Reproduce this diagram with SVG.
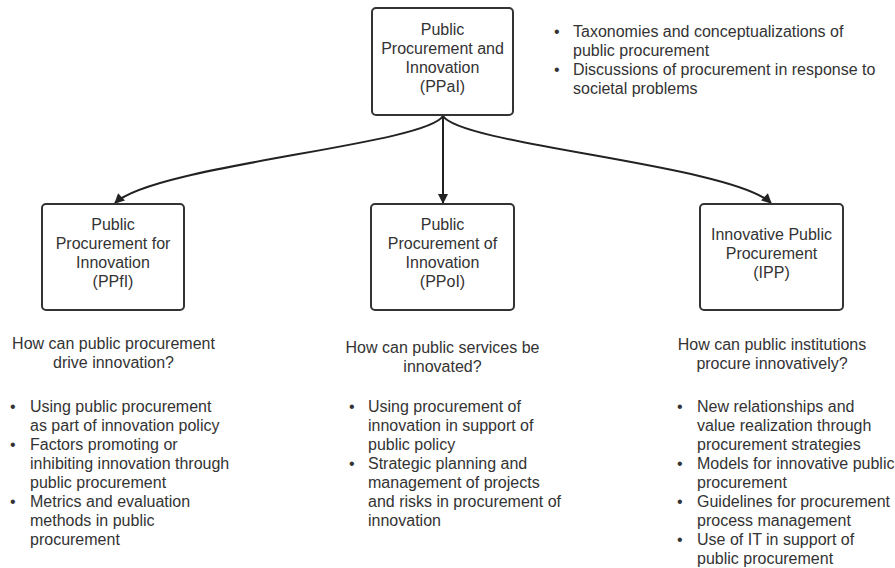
<svg xmlns="http://www.w3.org/2000/svg" width="895" height="568" viewBox="0 0 895 568">
<style>
  .box { fill: #ffffff; stroke: #333333; stroke-width: 2; }
  .t { font-family: "Liberation Sans", Arial, sans-serif; font-size: 16px; fill: #333333; }
  .c { text-anchor: middle; }
  .conn { fill: none; stroke: #222222; stroke-width: 2; }
</style>
<defs>
  <marker id="arrow" viewBox="0 0 10 10" refX="9" refY="5" markerWidth="5.5" markerHeight="5" markerUnits="strokeWidth" orient="auto">
    <path d="M0,0 L10,5 L0,10 Z" fill="#222222"/>
  </marker>
</defs>
<rect width="895" height="568" fill="#ffffff"/>

<g id="connectors">
  <path class="conn" d="M443,116 C425,145 155,165 115,203" marker-end="url(#arrow)"/>
  <path class="conn" d="M443,116 L443,203" marker-end="url(#arrow)"/>
  <path class="conn" d="M443,116 C461,145 731,165 771,203" marker-end="url(#arrow)"/>
</g>

<g id="ppai">
  <rect class="box" x="372" y="8" width="141" height="107" rx="4"/>
  <text class="t c" x="442.5" y="35">Public</text>
  <text class="t c" x="442.5" y="54">Procurement and</text>
  <text class="t c" x="442.5" y="73">Innovation</text>
  <text class="t c" x="442.5" y="92">(PPaI)</text>
</g>

<g id="ppai-notes">
  <text class="t" x="554" y="37">•</text>
  <text class="t" x="573" y="37">Taxonomies and conceptualizations of</text>
  <text class="t" x="573" y="56">public procurement</text>
  <text class="t" x="554" y="75">•</text>
  <text class="t" x="573" y="75">Discussions of procurement in response to</text>
  <text class="t" x="573" y="94">societal problems</text>
</g>

<g id="ppfi">
  <rect class="box" x="42" y="204" width="142" height="106" rx="4"/>
  <text class="t c" x="113" y="230">Public</text>
  <text class="t c" x="113" y="249">Procurement for</text>
  <text class="t c" x="113" y="268">Innovation</text>
  <text class="t c" x="113" y="287">(PPfI)</text>
</g>

<g id="ppoi">
  <rect class="box" x="371" y="204" width="143" height="106" rx="4"/>
  <text class="t c" x="442.5" y="230">Public</text>
  <text class="t c" x="442.5" y="249">Procurement of</text>
  <text class="t c" x="442.5" y="268">Innovation</text>
  <text class="t c" x="442.5" y="287">(PPoI)</text>
</g>

<g id="ipp">
  <rect class="box" x="700" y="204" width="143" height="106" rx="4"/>
  <text class="t c" x="771.5" y="240">Innovative Public</text>
  <text class="t c" x="771.5" y="259">Procurement</text>
  <text class="t c" x="771.5" y="278">(IPP)</text>
</g>

<g id="ppfi-notes">
  <text class="t c" x="113.5" y="349">How can public procurement</text>
  <text class="t c" x="113.5" y="368">drive innovation?</text>
  <text class="t" x="10" y="412">•</text>
  <text class="t" x="30" y="412">Using public procurement</text>
  <text class="t" x="30" y="431">as part of innovation policy</text>
  <text class="t" x="10" y="450">•</text>
  <text class="t" x="30" y="450">Factors promoting or</text>
  <text class="t" x="30" y="469">inhibiting innovation through</text>
  <text class="t" x="30" y="488">public procurement</text>
  <text class="t" x="10" y="507">•</text>
  <text class="t" x="30" y="507">Metrics and evaluation</text>
  <text class="t" x="30" y="526">methods in public</text>
  <text class="t" x="30" y="545">procurement</text>
</g>

<g id="ppoi-notes">
  <text class="t c" x="442.5" y="353">How can public services be</text>
  <text class="t c" x="442.5" y="372">innovated?</text>
  <text class="t" x="349" y="412">•</text>
  <text class="t" x="368" y="412">Using procurement of</text>
  <text class="t" x="368" y="431">innovation in support of</text>
  <text class="t" x="368" y="450">public policy</text>
  <text class="t" x="349" y="469">•</text>
  <text class="t" x="368" y="469">Strategic planning and</text>
  <text class="t" x="368" y="488">management of projects</text>
  <text class="t" x="368" y="507">and risks in procurement of</text>
  <text class="t" x="368" y="526">innovation</text>
</g>

<g id="ipp-notes">
  <text class="t c" x="772" y="350">How can public institutions</text>
  <text class="t c" x="772" y="369">procure innovatively?</text>
  <text class="t" x="677" y="412">•</text>
  <text class="t" x="697" y="412">New relationships and</text>
  <text class="t" x="697" y="431">value realization through</text>
  <text class="t" x="697" y="450">procurement strategies</text>
  <text class="t" x="677" y="469">•</text>
  <text class="t" x="697" y="469">Models for innovative public</text>
  <text class="t" x="697" y="488">procurement</text>
  <text class="t" x="677" y="507">•</text>
  <text class="t" x="697" y="507">Guidelines for procurement</text>
  <text class="t" x="697" y="526">process management</text>
  <text class="t" x="677" y="545">•</text>
  <text class="t" x="697" y="545">Use of IT in support of</text>
  <text class="t" x="697" y="564">public procurement</text>
</g>
</svg>
